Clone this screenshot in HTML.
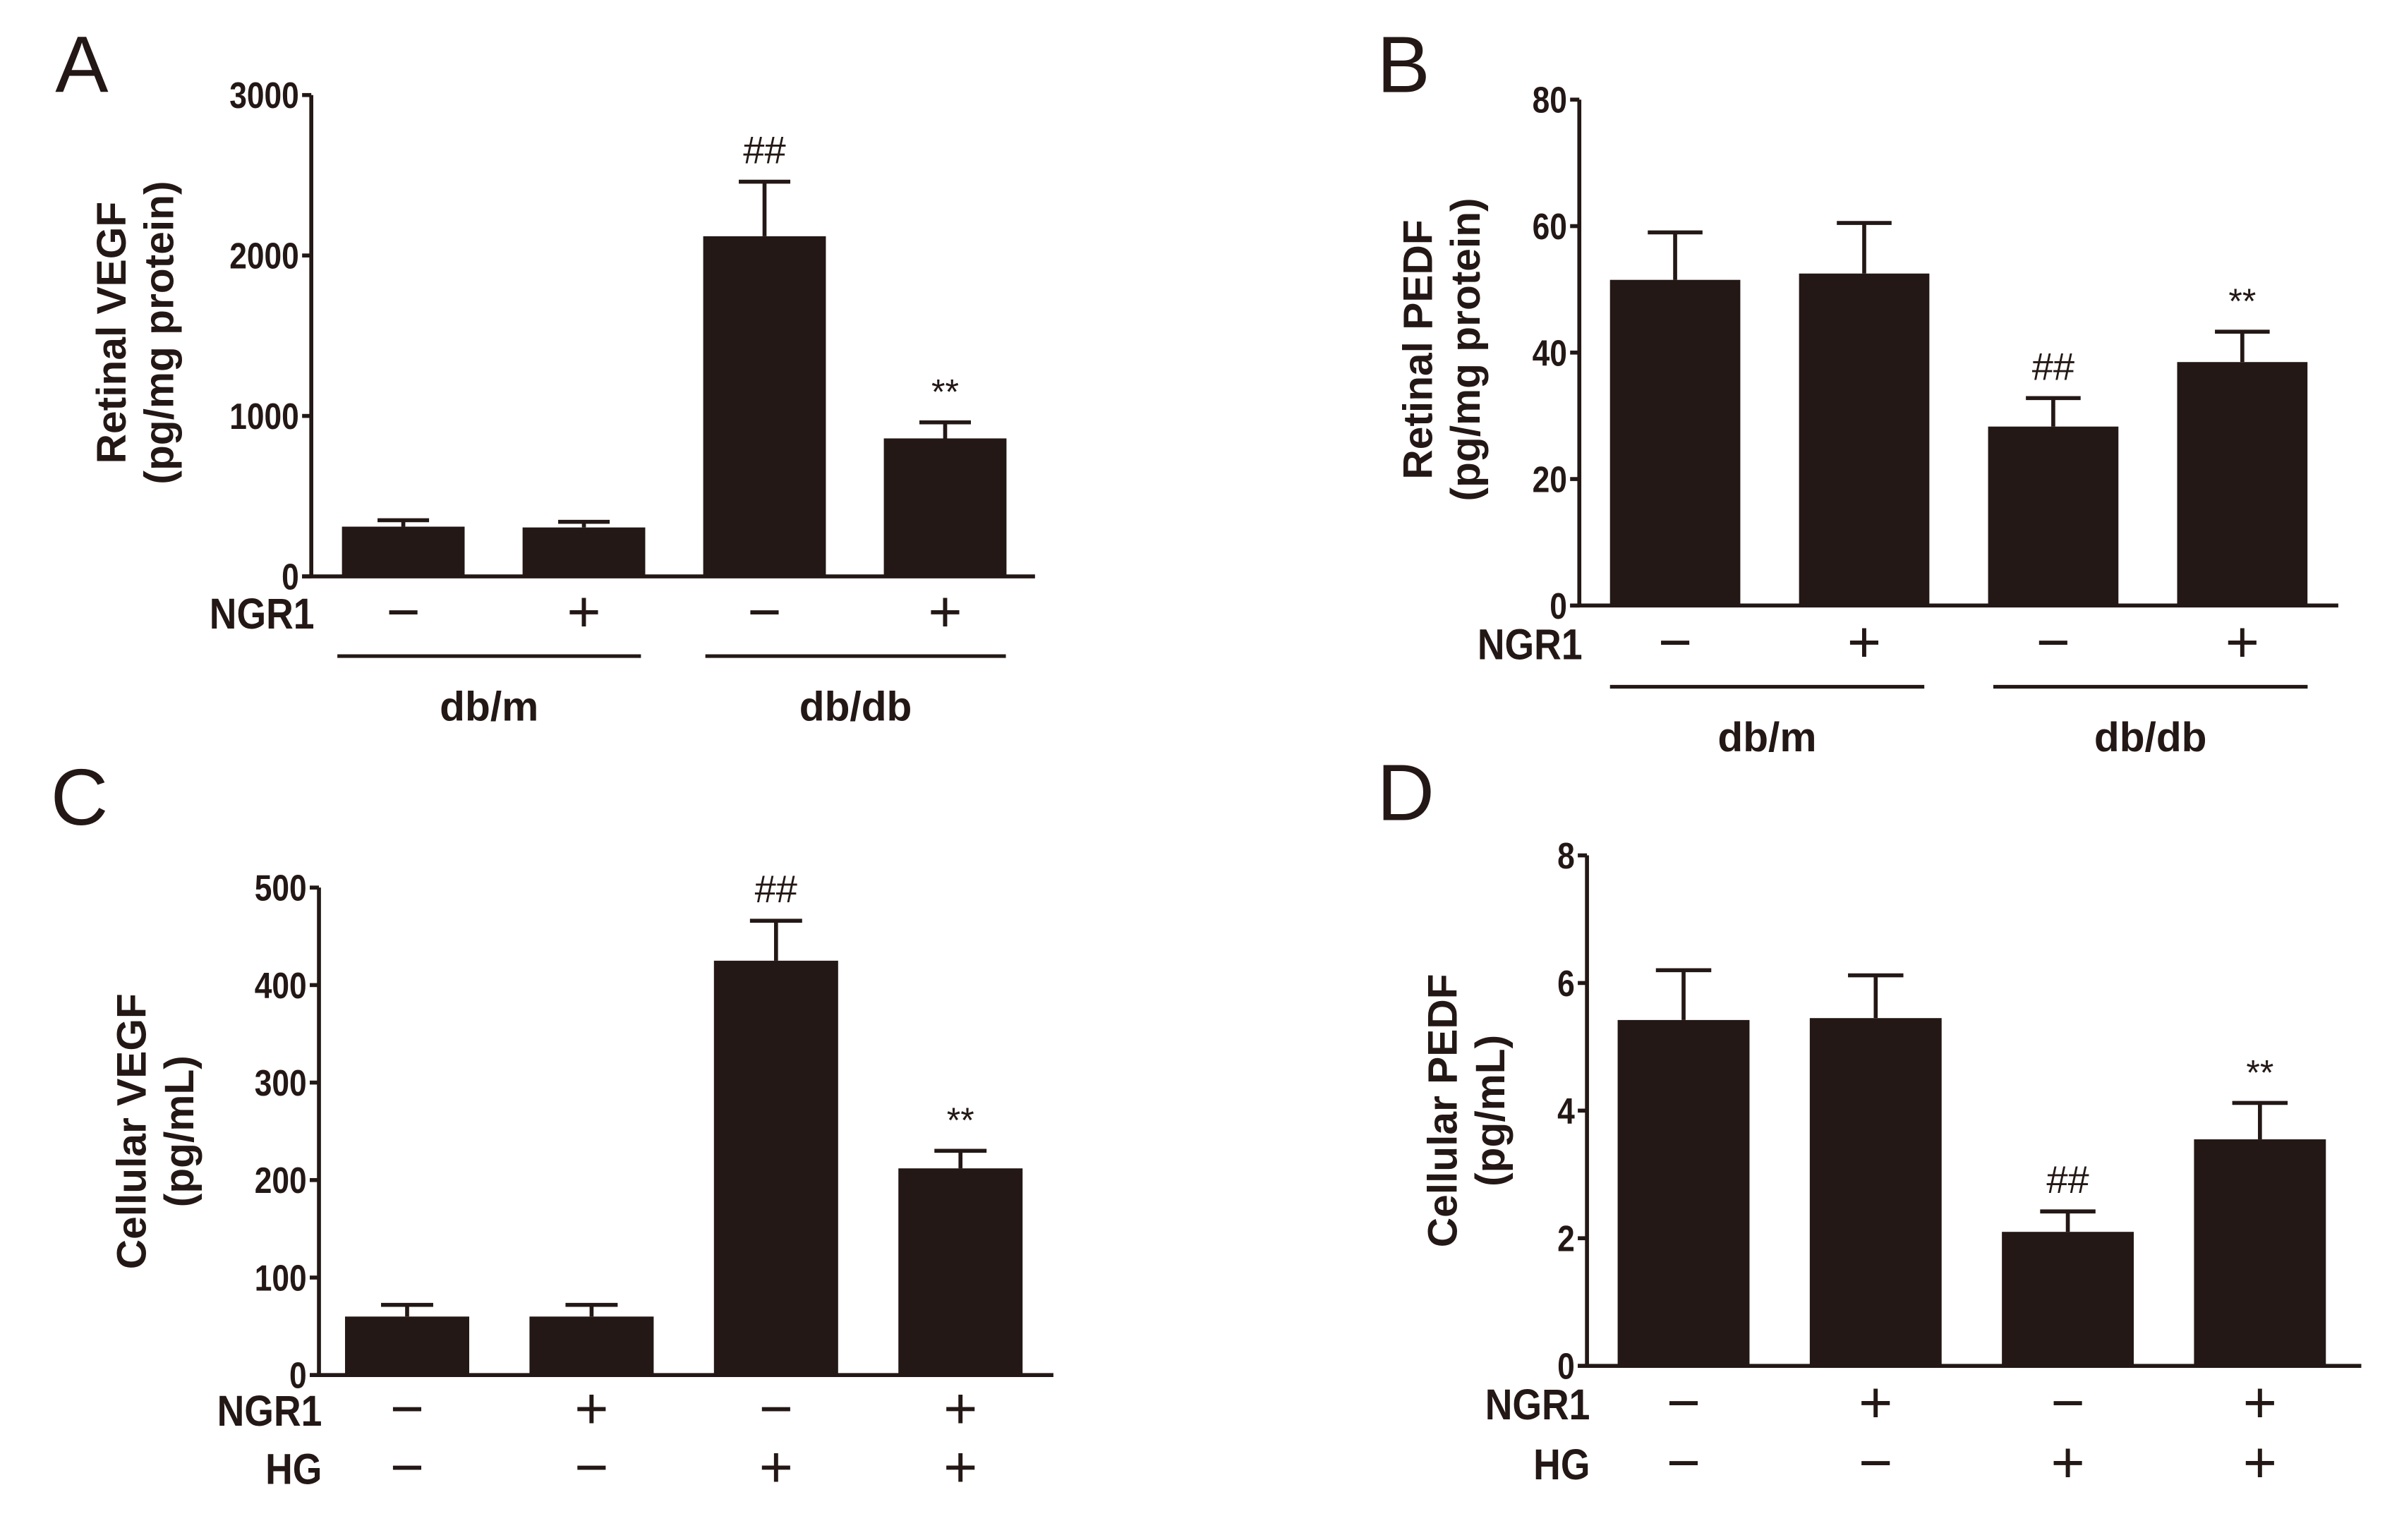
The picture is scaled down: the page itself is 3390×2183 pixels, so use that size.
<!DOCTYPE html>
<html><head><meta charset="utf-8"><style>
html,body{margin:0;padding:0;background:#fff;}
svg{display:block;}
text{font-family:"Liberation Sans",Arial,sans-serif;fill:#231815;}
.b{font-weight:bold;}
</style></head><body>
<svg id="fig" width="3390" height="2183" viewBox="0 0 1560 1004.6" xmlns="http://www.w3.org/2000/svg"></svg>
<script>
// Panel A: Retinal VEGF
const aValues = [310, 305, 2120, 860];
const aErrors = [350, 340, 2460, 960];
const aTicks = [0, 1000, 2000, 3000];
const aMarks = ["", "", "##", "**"];
// Panel B: Retinal PEDF
const bValues = [51.5, 52.5, 28.3, 38.5];
const bErrors = [59, 60.5, 32.8, 43.3];
const bTicks = [0, 20, 40, 60, 80];
const bMarks = ["", "", "##", "**"];
// Panel C: Cellular VEGF
const cValues = [60, 60, 425, 212];
const cErrors = [72, 72, 466, 230];
const cTicks = [0, 100, 200, 300, 400, 500];
const cMarks = ["", "", "##", "**"];
// Panel D: Cellular PEDF
const dValues = [5.42, 5.45, 2.1, 3.55];
const dErrors = [6.2, 6.12, 2.42, 4.12];
const dTicks = [0, 2, 4, 6, 8];
const dMarks = ["", "", "##", "**"];
// Treatment labels
const ngr1Signs = ["−", "+", "−", "+"];
const hgSigns = ["−", "−", "+", "+"];

const NS = "http://www.w3.org/2000/svg";
const svg = document.getElementById('fig');
function mk(tag, attrs, parent, txt) {
  const e = document.createElementNS(NS, tag);
  for (const k in attrs) e.setAttribute(k, attrs[k]);
  if (txt !== undefined) e.textContent = txt;
  (parent || svg).appendChild(e);
  return e;
}

function panel(p) {
  const g = mk('g', {});
  
  
  const yMax = p.ticks[p.ticks.length - 1];
  const yScale = v => p.y0 - (v / yMax) * (p.y0 - p.yTop);
  const bw = p.barW, step = p.step;
  const xC = i => p.x1 + bw / 2 + i * step;

  const L = mk('text', {x: p.lx, y: p.ly, 'font-size': 52}, g, p.id);
  
  

  p.values.forEach((v, i) => {
    const top = yScale(v), et = yScale(p.errs[i]);
    const r = mk('rect', {x: xC(i) - bw / 2, y: top, width: bw, height: p.y0 - top, fill: '#231815'}, g);
    
    
    const eb = mk('path', {d: `M${xC(i)},${top} V${et} M${xC(i) - bw * 0.21},${et} H${xC(i) + bw * 0.21}`, stroke: '#231815', 'stroke-width': 2.6, fill: 'none'}, g);
    
    
    if (p.marks[i]) {
      const m = mk('text', {x: xC(i), y: et - 12, 'font-size': p.marks[i] === '##' ? 25 : 23, 'text-anchor': 'middle'}, g, p.marks[i]);
      
      
    }
  });

  const ya = mk('line', {x1: p.ax, y1: p.yTop, x2: p.ax, y2: p.y0 + 1, stroke: '#231815', 'stroke-width': 2.6}, g);
  
  
  const xa = mk('line', {x1: p.ax - 6, y1: p.y0, x2: p.xEnd, y2: p.y0, stroke: '#231815', 'stroke-width': 2.6}, g);
  
  
  p.ticks.forEach(t => {
    const y = yScale(t);
    mk('line', {x1: p.ax - 6, y1: y, x2: p.ax, y2: y, stroke: '#231815', 'stroke-width': 2.6}, g);
    const tx = p.ax - 8;
    const tl = mk('text', {x: 0, y: 0, 'font-size': 24, 'text-anchor': 'end', class: 'b', transform: `translate(${tx} ${y + 8.5}) scale(0.85 1)`}, g, t);
    
    
  });

  const cy = (p.y0 + p.yTop) / 2 + p.tOff;
  const t1 = mk('text', {x: p.t1x, y: cy, 'font-size': 27, 'text-anchor': 'middle', class: 'b', transform: `rotate(-90 ${p.t1x} ${cy})`}, g, p.title1);
  
  
  const t2 = mk('text', {x: p.t2x, y: cy, 'font-size': 27, 'text-anchor': 'middle', class: 'b', transform: `rotate(-90 ${p.t2x} ${cy})`}, g, p.title2);
  
  

  p.rows.forEach((row) => {
    const rl = mk('text', {x: 0, y: 0, 'font-size': 28, 'text-anchor': 'end', class: 'b', transform: `translate(${p.ax + 2} ${row.y + 10}) scale(0.88 1)`}, g, row.label);
    
    
    row.signs.forEach((s, i) => {
      const st = mk('text', {x: xC(i), y: row.y + 12, 'font-size': 38, 'font-weight': 300, 'text-anchor': 'middle'}, g, s);
      
      
    });
  });
  if (p.groups) {
    p.groups.forEach(gr => {
      const gl = mk('line', {x1: gr.x1, y1: p.gy, x2: gr.x2, y2: p.gy, stroke: '#231815', 'stroke-width': 2.4}, g);
      
      
      const gt = mk('text', {x: (gr.x1 + gr.x2) / 2, y: p.gy + 42, 'font-size': 27, 'text-anchor': 'middle', class: 'b'}, g, gr.label);
      
      
    });
  }
}

panel({id: 'A', values: aValues, errs: aErrors, ticks: aTicks, marks: aMarks,
  lx: 36, ly: 60, ax: 203, yTop: 62, y0: 376, xEnd: 675, x1: 223, barW: 80, step: 117.8,
  title1: 'Retinal VEGF', title2: '(pg/mg protein)', t1x: 82, t2x: 113, tOff: -2,
  rows: [{label: 'NGR1', y: 400, signs: ngr1Signs}], gy: 428,
  groups: [{x1: 220, x2: 418, label: 'db/m'}, {x1: 460, x2: 656, label: 'db/db'}]});
panel({id: 'B', values: bValues, errs: bErrors, ticks: bTicks, marks: bMarks,
  lx: 898, ly: 60, ax: 1030, yTop: 65, y0: 395, xEnd: 1525, x1: 1050, barW: 85, step: 123.3,
  title1: 'Retinal PEDF', title2: '(pg/mg protein)', t1x: 934, t2x: 965, tOff: -2,
  rows: [{label: 'NGR1', y: 420, signs: ngr1Signs}], gy: 448,
  groups: [{x1: 1050, x2: 1255, label: 'db/m'}, {x1: 1300, x2: 1505, label: 'db/db'}]});
panel({id: 'C', values: cValues, errs: cErrors, ticks: cTicks, marks: cMarks,
  lx: 33, ly: 538, ax: 208, yTop: 579, y0: 897, xEnd: 687, x1: 225, barW: 81, step: 120.3,
  title1: 'Cellular VEGF', title2: '(pg/mL)', t1x: 95, t2x: 126, tOff: 0,
  rows: [{label: 'NGR1', y: 920, signs: ngr1Signs}, {label: 'HG', y: 958, signs: hgSigns}]});
panel({id: 'D', values: dValues, errs: dErrors, ticks: dTicks, marks: dMarks,
  lx: 898, ly: 535, ax: 1035, yTop: 558, y0: 891, xEnd: 1540, x1: 1055, barW: 86, step: 125.3,
  title1: 'Cellular PEDF', title2: '(pg/mL)', t1x: 950, t2x: 981, tOff: 0,
  rows: [{label: 'NGR1', y: 916, signs: ngr1Signs}, {label: 'HG', y: 955, signs: hgSigns}]});
</script>
</body></html>
